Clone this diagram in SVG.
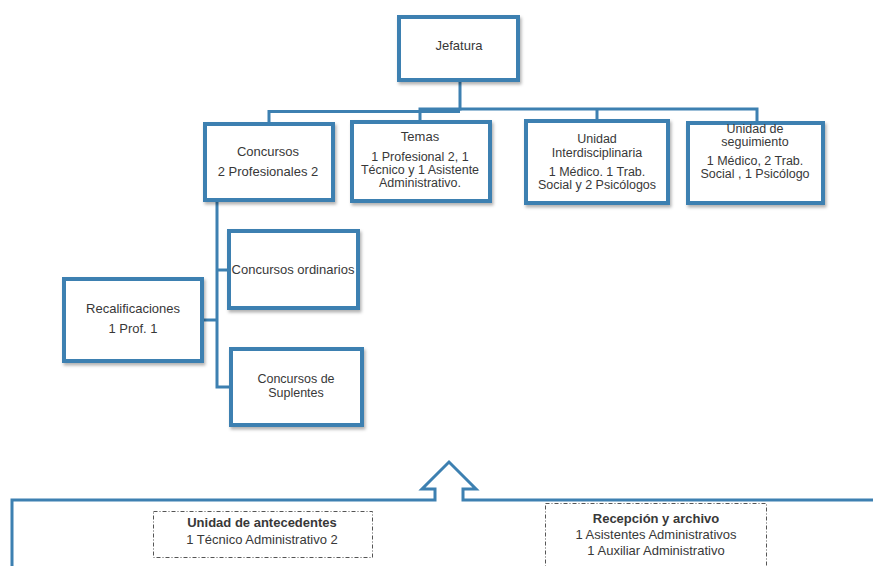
<svg xmlns="http://www.w3.org/2000/svg" width="873" height="566" viewBox="0 0 873 566">
<defs>
<filter id="sh" x="-10%" y="-10%" width="125%" height="130%">
<feDropShadow dx="1.5" dy="2.5" stdDeviation="1.5" flood-color="#000" flood-opacity="0.3"/>
</filter>
</defs>
<style>
.box{fill:#fff;stroke:#3d80b1;stroke-width:4;filter:url(#sh)}
.conn{fill:none;stroke:#3d80b1;stroke-width:3}
.arrow{fill:none;stroke:#3d80b1;stroke-width:3;stroke-linejoin:miter}
.dash{fill:#fff;stroke:#555;stroke-width:1;stroke-dasharray:4 2 1 2}
text{font-family:"Liberation Sans",Arial,sans-serif;font-size:13px;fill:#383838;text-anchor:middle}
.t{font-size:12.5px}
.b{font-weight:bold}
</style>
<rect width="873" height="566" fill="#fff"/>
<g id="connectors">
<polyline class="conn" points="460,80 460,109 420,109 420,122"/>
<polyline class="conn" points="460,109 757,109 757,123"/>
<polyline class="conn" points="597,109 597,121"/>
<polyline class="conn" points="269,124 269,111.5 460,111.5"/>
<polyline class="conn" points="217,200 217,387 231,387"/>
<line class="conn" x1="217" y1="270" x2="229" y2="270"/>
<line class="conn" x1="202" y1="320" x2="217" y2="320"/>
</g>
<g id="jefatura"><rect class="box" x="399" y="17" width="119" height="63"/><text x="459" y="50">Jefatura</text></g>
<g id="concursos"><rect class="box" x="205" y="124" width="128" height="76"/><text x="268" y="156">Concursos</text><text x="268" y="176">2 Profesionales 2</text></g>
<g id="temas"><rect class="box" x="352" y="122" width="138" height="79"/><text x="420" y="141">Temas</text><text class="t" x="420" y="161">1 Profesional 2, 1</text><text class="t" x="420" y="174">Técnico y 1 Asistente</text><text class="t" x="420" y="187">Administrativo.</text></g>
<g id="interdisciplinaria"><rect class="box" x="526" y="121" width="142" height="82"/><text class="t" x="597" y="143">Unidad</text><text class="t" x="597" y="157">Interdisciplinaria</text><text class="t" x="597" y="176">1 Médico. 1 Trab.</text><text class="t" x="597" y="189">Social y  2 Psicólogos</text></g>
<g id="seguimiento"><rect class="box" x="688" y="123" width="135" height="80"/><text class="t" x="755" y="133">Unidad de</text><text class="t" x="755" y="146">seguimiento</text><text class="t" x="755" y="165">1 Médico, 2 Trab.</text><text class="t" x="755" y="178">Social , 1 Psicólogo</text></g>
<g id="ordinarios"><rect class="box" x="229" y="231" width="129" height="77"/><text x="293" y="274">Concursos ordinarios</text></g>
<g id="recalificaciones"><rect class="box" x="64" y="279" width="138" height="82"/><text x="133" y="313">Recalificaciones</text><text x="133" y="333">1 Prof. 1</text></g>
<g id="suplentes"><rect class="box" x="231" y="349" width="131" height="76"/><text class="t" x="296" y="383">Concursos de</text><text class="t" x="296" y="397">Suplentes</text></g>
<g id="arrow"><polyline class="arrow" points="12,566 12,500 435,500 435,489 422,489 449,462 476,489 463,489 463,500 873,500"/></g>
<g id="antecedentes"><rect class="dash" x="153.5" y="511.5" width="219" height="46"/><text class="b" x="262" y="527">Unidad de antecedentes</text><text x="262" y="544">1 Técnico Administrativo  2</text></g>
<g id="recepcion"><rect class="dash" x="545.5" y="503.5" width="221" height="70"/><text class="b" x="656" y="523">Recepción y archivo</text><text x="656" y="539">1 Asistentes Administrativos</text><text x="656" y="555">1 Auxiliar Administrativo</text></g>
</svg>
